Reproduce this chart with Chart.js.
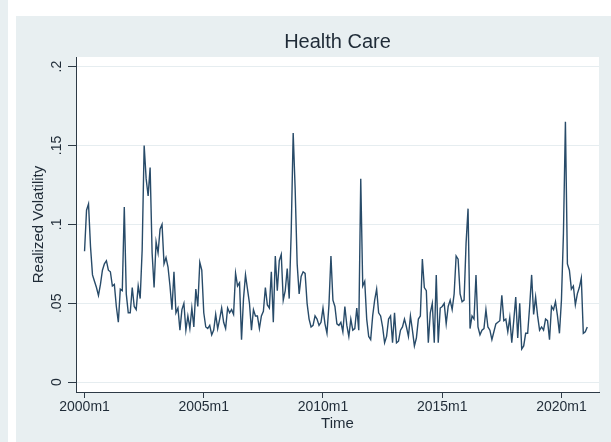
<!DOCTYPE html>
<html>
<head>
<meta charset="utf-8">
<script src="https://cdn.jsdelivr.net/npm/chart.js@4"></script>
<style>
  html, body { margin: 0; padding: 0; background: #ffffff; }
  #wrap { width: 611px; height: 442px; position: relative; }
</style>
</head>
<body>
<div id="wrap"><canvas id="chart" width="611" height="442"></canvas></div>
<script>
// Monthly realized volatility, health care sector, 2000m1 onward
const volatility = [
  0.083, 0.109, 0.113, 0.086, 0.068, 0.064, 0.060, 0.055, 0.062, 0.071,
  0.075, 0.077, 0.071, 0.070, 0.061, 0.062, 0.048, 0.038, 0.059, 0.058,
  0.111, 0.056, 0.044, 0.044, 0.060, 0.048, 0.046, 0.061, 0.053, 0.084,
  0.150, 0.129, 0.118, 0.136, 0.082, 0.060, 0.089, 0.082, 0.097, 0.100,
  0.075, 0.079, 0.073, 0.061, 0.046, 0.070, 0.044, 0.047, 0.033, 0.046,
  0.050, 0.033, 0.042, 0.034, 0.047, 0.035, 0.059, 0.048, 0.076, 0.071,
  0.044, 0.035, 0.034, 0.036, 0.030, 0.033, 0.043, 0.034, 0.040, 0.047,
  0.038, 0.034, 0.047, 0.044, 0.046, 0.043, 0.069, 0.061, 0.063, 0.027,
  0.053, 0.068, 0.059, 0.050, 0.033, 0.046, 0.042, 0.042, 0.034, 0.042,
  0.045, 0.060, 0.049, 0.047, 0.070, 0.038, 0.080, 0.058, 0.077, 0.081,
  0.052, 0.058, 0.072, 0.053, 0.095, 0.158, 0.122, 0.075, 0.056, 0.067,
  0.070, 0.069, 0.050, 0.040, 0.035, 0.036, 0.042, 0.040, 0.036, 0.038,
  0.047, 0.037, 0.031, 0.049, 0.080, 0.052, 0.048, 0.037, 0.036, 0.038,
  0.032, 0.048, 0.036, 0.029, 0.040, 0.033, 0.034, 0.047, 0.033, 0.129,
  0.061, 0.064, 0.040, 0.029, 0.027, 0.042, 0.052, 0.059, 0.044, 0.042,
  0.035, 0.025, 0.029, 0.040, 0.042, 0.025, 0.044, 0.025, 0.026, 0.033,
  0.035, 0.040, 0.035, 0.029, 0.042, 0.033, 0.023, 0.028, 0.040, 0.042,
  0.078, 0.060, 0.058, 0.025, 0.044, 0.050, 0.025, 0.068, 0.025, 0.047,
  0.048, 0.050, 0.037, 0.048, 0.052, 0.046, 0.056, 0.080, 0.078, 0.056,
  0.051, 0.052, 0.088, 0.110, 0.034, 0.042, 0.040, 0.068, 0.035, 0.030,
  0.033, 0.034, 0.046, 0.035, 0.033, 0.027, 0.032, 0.037, 0.038, 0.039,
  0.055, 0.039, 0.040, 0.032, 0.041, 0.025, 0.039, 0.054, 0.028, 0.050,
  0.021, 0.023, 0.031, 0.031, 0.048, 0.068, 0.043, 0.054, 0.042, 0.033,
  0.035, 0.033, 0.040, 0.039, 0.027, 0.048, 0.046, 0.051, 0.042, 0.031,
  0.052, 0.094, 0.165, 0.075, 0.071, 0.059, 0.061, 0.049, 0.056, 0.060,
  0.066, 0.031, 0.032, 0.035
];

// Month index (0 = 2000m1) for each observation
const months = volatility.map((_, i) => i);

// Axis ticks
const xTickValues = [0, 60, 120, 180, 240];
const xTickLabels = ['2000m1', '2005m1', '2010m1', '2015m1', '2020m1'];
const yTickValues = [0, 0.05, 0.1, 0.15, 0.2];
const yTickLabels = ['0', '.05', '.1', '.15', '.2'];

const ink = '#1f2b37';
const axisInk = '#2d3a46';
const fontFamily = "'Liberation Sans', Arial, sans-serif";

// Graph background: outer light blue-grey region with a white plot region
const backdrop = {
  id: 'backdrop',
  beforeDraw(chart) {
    const { ctx, chartArea: a, width, height } = chart;
    ctx.save();
    ctx.fillStyle = '#ffffff';
    ctx.fillRect(0, 0, width, height);
    ctx.fillStyle = '#e8eff1';
    ctx.fillRect(0, 0, 8, height);
    ctx.fillRect(16, 16, width - 16, height - 16);
    ctx.fillStyle = '#ffffff';
    ctx.fillRect(a.left, a.top, a.right - a.left, a.bottom - a.top);
    ctx.restore();
  }
};

new Chart(document.getElementById('chart'), {
  type: 'line',
  data: {
    datasets: [{
      data: months.map((m, i) => ({ x: m, y: volatility[i] })),
      borderColor: '#284b69',
      borderWidth: 1.4,
      pointRadius: 0,
      tension: 0,
      fill: false
    }]
  },
  options: {
    responsive: false,
    animation: false,
    devicePixelRatio: 1,
    layout: { padding: { left: 16, right: 12, top: 16, bottom: 0 } },
    plugins: {
      legend: { display: false },
      tooltip: { enabled: false },
      title: {
        display: true,
        fullSize: false,
        text: 'Health Care',
        color: ink,
        font: { family: fontFamily, size: 20, weight: 'normal' },
        padding: { top: 14, bottom: 3 }
      }
    },
    scales: {
      x: {
        type: 'linear',
        min: -4.3,
        max: 258.9,
        afterBuildTicks: s => { s.ticks = xTickValues.map(v => ({ value: v })); },
        afterFit: s => { s.height = 50; },
        ticks: {
          autoSkip: false,
          maxRotation: 0,
          padding: 1,
          color: ink,
          font: { family: fontFamily, size: 14 },
          callback: (v, i) => xTickLabels[i]
        },
        grid: { drawOnChartArea: false, tickLength: 6, tickColor: axisInk, tickWidth: 1 },
        border: { display: true, color: axisInk, width: 1 },
        title: {
          display: true,
          text: 'Time',
          color: ink,
          font: { family: fontFamily, size: 15 },
          padding: { top: 0, bottom: 9 }
        }
      },
      y: {
        type: 'linear',
        min: -0.0062,
        max: 0.2061,
        afterBuildTicks: s => { s.ticks = yTickValues.map(v => ({ value: v })); },
        afterFit: s => { s.width = 60; },
        ticks: {
          autoSkip: false,
          minRotation: 90,
          maxRotation: 90,
          crossAlign: 'center',
          padding: 1,
          color: ink,
          font: { family: fontFamily, size: 14 },
          callback: (v, i) => yTickLabels[i]
        },
        grid: { color: '#e6edf0', lineWidth: 1, tickLength: 8, tickColor: axisInk, tickWidth: 1 },
        border: { display: true, color: axisInk, width: 1 },
        title: {
          display: true,
          text: 'Realized Volatility',
          color: ink,
          font: { family: fontFamily, size: 15 },
          padding: { top: 14, bottom: 0 }
        }
      }
    }
  },
  plugins: [backdrop]
});
</script>
</body>
</html>
